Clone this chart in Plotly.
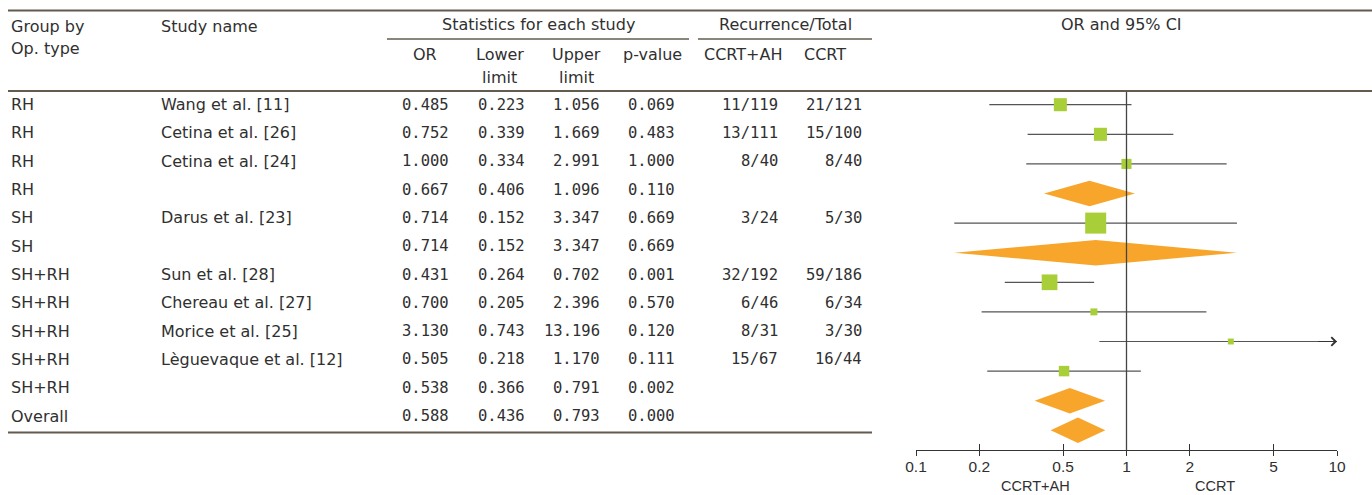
import math
import plotly.graph_objects as go

# ---------------- data ----------------
groups = ["RH", "RH", "RH", "RH", "SH", "SH", "SH+RH", "SH+RH", "SH+RH", "SH+RH", "SH+RH", "Overall"]
studies = ["Wang et al. [11]", "Cetina et al. [26]", "Cetina et al. [24]", "", "Darus et al. [23]", "",
           "Sun et al. [28]", "Chereau et al. [27]", "Morice et al. [25]", "Lèguevaque et al. [12]", "", ""]
or_vals = [0.485, 0.752, 1.000, 0.667, 0.714, 0.714, 0.431, 0.700, 3.130, 0.505, 0.538, 0.588]
lower = [0.223, 0.339, 0.334, 0.406, 0.152, 0.152, 0.264, 0.205, 0.743, 0.218, 0.366, 0.436]
upper = [1.056, 1.669, 2.991, 1.096, 3.347, 3.347, 0.702, 2.396, 13.196, 1.170, 0.791, 0.793]
pvals = ["0.069", "0.483", "1.000", "0.110", "0.669", "0.669", "0.001", "0.570", "0.120", "0.111", "0.002", "0.000"]
rec_ah = ["11/119", "13/111", "8/40", "", "3/24", "", "32/192", "6/46", "8/31", "15/67", "", ""]
rec_ccrt = ["21/121", "15/100", "8/40", "", "5/30", "", "59/186", "6/34", "3/30", "16/44", "", ""]
is_summary = [False, False, False, True, False, True, False, False, False, False, True, True]
weights = [38.5, 38.5, 23, None, 100, None, 56, 11, 8, 25, None, None]  # relative weight within subgroup (%)

tick_vals = [0.1, 0.2, 0.5, 1, 2, 5, 10]
tick_text = ["0.1", "0.2", "0.5", "1", "2", "5", "10"]
col_headers = ["OR", "Lower", "Upper", "p-value", "CCRT+AH", "CCRT"]

# ---------------- layout constants ----------------
W, H = 1372, 495
XMIN, XMAX = 0.1, 10
TXT = "#303030"
RULE = "#635b4d"
SANS = "DejaVu Sans, Noto Sans, sans-serif"
MONO = "DejaVu Sans Mono, monospace"
AXF = "Liberation Sans, Arial, sans-serif"
GREEN = "#a8cf38"
ORANGE = "#f8a62b"


def px(x):
    return x / W


def py(y):
    return 1 - y / H


n = len(groups)
fig = go.Figure()

# forest plot: y value = -row index
for i in range(n):
    y = -i
    hi = min(upper[i], XMAX)
    if is_summary[i]:
        h = 0.43
        fig.add_trace(go.Scatter(
            x=[lower[i], or_vals[i], upper[i], or_vals[i], lower[i]],
            y=[y, y + h, y, y - h, y],
            mode="lines", fill="toself", fillcolor=ORANGE,
            line=dict(width=0, color=ORANGE), hoverinfo="skip", showlegend=False,
            xaxis="x", yaxis="y"))
    else:
        fig.add_trace(go.Scatter(
            x=[lower[i], hi], y=[y, y], mode="lines",
            line=dict(color="#555555", width=1.2), hoverinfo="skip", showlegend=False,
            xaxis="x", yaxis="y"))
        size = 21 * math.sqrt(weights[i] / 100)
        fig.add_trace(go.Scatter(
            x=[or_vals[i]], y=[y], mode="markers",
            marker=dict(symbol="square", size=size, color=GREEN, line=dict(width=0)),
            hoverinfo="skip", showlegend=False, xaxis="x", yaxis="y"))
        if upper[i] > XMAX:
            fig.add_annotation(x=math.log10(XMAX), y=y, ax=math.log10(XMAX * 0.8), ay=y,
                               xref="x", yref="y", axref="x", ayref="y",
                               text="", showarrow=True, arrowhead=4, arrowsize=1.4,
                               arrowwidth=1.2, arrowcolor="#333333", standoff=0)

# invisible trace for overlay axis (crossing ticks)
fig.add_trace(go.Scatter(x=[1], y=[0], mode="markers", marker=dict(opacity=0),
                         hoverinfo="skip", showlegend=False, xaxis="x2", yaxis="y"))

# reference line at 1
fig.add_shape(type="line", xref="x", yref="y domain", x0=1, x1=1, y0=0, y1=1,
              line=dict(color="#444444", width=1.3))

# axes
row0_px, row_step_px = 104.7, 29.6
top_px, axis_px = 92, 450
y_top = (row0_px - top_px) / row_step_px
y_bot = -(axis_px - row0_px) / row_step_px
x_dom = [px(916), px(1337)]

fig.update_layout(
    width=W, height=H, margin=dict(l=0, r=0, t=0, b=0, pad=0, autoexpand=False),
    plot_bgcolor="white", paper_bgcolor="white",
    xaxis=dict(type="log", range=[math.log10(XMIN), math.log10(XMAX)], domain=x_dom,
               tickvals=tick_vals, ticktext=tick_text, ticks="outside", ticklen=5,
               tickwidth=1.3, tickcolor="#333333", showline=True, linecolor="#333333",
               linewidth=1.3, showgrid=False, zeroline=False, automargin=False,
               ticklabelstandoff=-3,
               tickfont=dict(family=AXF, size=15.5, color=TXT), anchor="y"),
    xaxis2=dict(type="log", range=[math.log10(XMIN), math.log10(XMAX)], domain=x_dom,
                overlaying="x", anchor="y", side="bottom", tickvals=tick_vals,
                ticks="inside", ticklen=6, tickwidth=1.3, tickcolor="#333333",
                showticklabels=False, showline=False, showgrid=False, zeroline=False,
                automargin=False),
    yaxis=dict(range=[y_bot, y_top], domain=[py(axis_px), py(top_px)], visible=False,
               showgrid=False, zeroline=False, automargin=False),
)

# axis side labels
fig.add_annotation(x=px(1035), y=py(485.5), xref="paper", yref="paper", text="CCRT+AH",
                   showarrow=False, font=dict(family=AXF, size=14.5, color=TXT),
                   xanchor="center", yanchor="middle")
fig.add_annotation(x=px(1215), y=py(485.5), xref="paper", yref="paper", text="CCRT",
                   showarrow=False, font=dict(family=AXF, size=14.5, color=TXT),
                   xanchor="center", yanchor="middle")

# table rules
def hline(x0, x1, y, w=2.0):
    fig.add_shape(type="line", xref="paper", yref="paper", x0=px(x0), x1=px(x1),
                  y0=py(y), y1=py(y), line=dict(color=RULE, width=w))

hline(8, 1372, 10.5)
hline(8, 1372, 91)
hline(8, 872, 432.5)
hline(387, 689, 39, 1.6)
hline(698, 872, 39, 1.6)


def text(x, y, s, anchor="left", font=SANS, size=16):
    fig.add_annotation(x=px(x), y=py(y), xref="paper", yref="paper", text=s, showarrow=False,
                       xanchor=anchor, yanchor="middle", font=dict(family=font, size=size, color=TXT))

# headers
text(9, 26, "Group by")
text(9, 49, "Op. type")
text(159, 26, "Study name")
text(538, 25, "Statistics for each study", "center")
text(785, 25, "Recurrence/Total", "center")
text(1121, 25, "OR and 95% CI", "center")
hdr_x = [425, 500, 576, 652, 743, 825]
for hx, h in zip(hdr_x, col_headers):
    text(hx, 54, h, "center")
text(500, 77, "limit", "center")
text(576, 77, "limit", "center")

# table rows
col_right = [451, 527, 602, 677, 780, 864]
for i in range(n):
    ty = 104.7 + 28.3 * i
    text(9, ty, groups[i])
    if studies[i]:
        text(159, ty, studies[i])
    vals = [f"{or_vals[i]:.3f}", f"{lower[i]:.3f}", f"{upper[i]:.3f}", pvals[i], rec_ah[i], rec_ccrt[i]]
    for cx, v in zip(col_right, vals):
        if v:
            text(cx, ty, v, "right", MONO, 15.5)

fig.write_html("out.html", config={"displayModeBar": False},
               post_script="document.body.style.margin='0';document.body.style.overflow='hidden';")
